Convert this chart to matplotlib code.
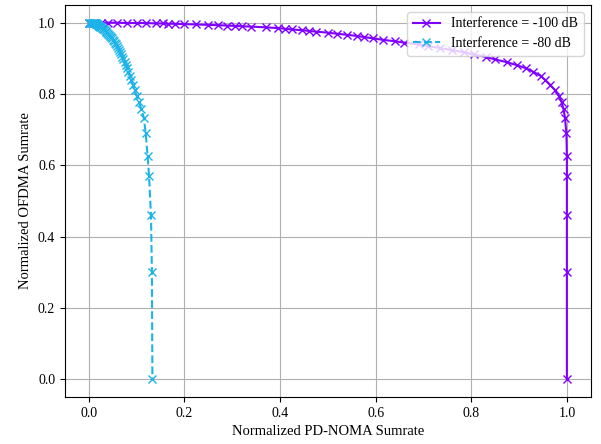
import matplotlib
matplotlib.use("Agg")
import matplotlib.pyplot as plt

plt.rcParams['font.family'] = ['Liberation Serif', 'DejaVu Serif']
plt.rcParams['font.size'] = 10

# normalized OFDMA sumrate (shared by both curves)
ofdma = [1.000, 1.000, 1.000, 1.000, 1.000, 0.999, 0.999, 0.999, 0.998, 0.998,
         0.997, 0.997, 0.996, 0.995, 0.994, 0.993, 0.992, 0.991, 0.990, 0.989,
         0.987, 0.985, 0.983, 0.981, 0.979, 0.977, 0.975, 0.972, 0.969, 0.966,
         0.963, 0.960, 0.956, 0.952, 0.948, 0.944, 0.939, 0.934, 0.929, 0.923,
         0.917, 0.911, 0.904, 0.897, 0.889, 0.881, 0.872, 0.862, 0.851, 0.839,
         0.826, 0.811, 0.795, 0.777, 0.757, 0.734, 0.690, 0.625, 0.570, 0.460,
         0.300, 0.000]

# normalized PD-NOMA sumrate, interference = -100 dB
noma_100 = [0.000, 0.010, 0.025, 0.040, 0.060, 0.080, 0.100, 0.120, 0.140, 0.155,
            0.165, 0.180, 0.200, 0.225, 0.250, 0.270, 0.290, 0.305, 0.320, 0.340,
            0.370, 0.395, 0.410, 0.425, 0.445, 0.460, 0.475, 0.500, 0.520, 0.540,
            0.560, 0.575, 0.595, 0.615, 0.640, 0.660, 0.690, 0.710, 0.735, 0.760,
            0.785, 0.805, 0.830, 0.850, 0.875, 0.895, 0.915, 0.930, 0.945, 0.955,
            0.965, 0.975, 0.983, 0.989, 0.993, 0.996, 0.999, 1.000, 1.000, 1.000,
            1.000, 1.000]

# normalized PD-NOMA sumrate, interference = -80 dB
noma_80 = [0.000, 0.002, 0.004, 0.006, 0.008, 0.010, 0.011, 0.012, 0.013, 0.014,
           0.015, 0.016, 0.017, 0.018, 0.019, 0.020, 0.021, 0.022, 0.023, 0.024,
           0.026, 0.028, 0.030, 0.032, 0.034, 0.035, 0.037, 0.039, 0.041, 0.043,
           0.045, 0.047, 0.049, 0.051, 0.053, 0.055, 0.057, 0.059, 0.061, 0.063,
           0.066, 0.068, 0.070, 0.072, 0.075, 0.077, 0.080, 0.083, 0.086, 0.089,
           0.092, 0.096, 0.100, 0.105, 0.110, 0.115, 0.119, 0.123, 0.126, 0.130,
           0.132, 0.133]

fig = plt.figure(figsize=(6.01, 4.44), dpi=100)
ax = fig.add_axes([0.108, 0.106, 0.875, 0.883])

ax.plot(noma_100, ofdma, color='#8000FF', linestyle='-', marker='x',
        markersize=6, linewidth=1.5, label='Interference = -100 dB')
ax.plot(noma_80, ofdma, color='#1CB4E8', linestyle='--', marker='x',
        markersize=6, linewidth=1.5, label='Interference = -80 dB')

ax.set_xlim(-0.05, 1.05)
ax.set_ylim(-0.05, 1.05)
ax.set_xlabel('Normalized PD-NOMA Sumrate', fontsize=10.5)
ax.set_ylabel('Normalized OFDMA Sumrate', fontsize=10.5)
ax.grid(True, color='#b0b0b0', linewidth=0.8)
ax.legend(loc='upper right')

fig.savefig('out.png', dpi=100)
